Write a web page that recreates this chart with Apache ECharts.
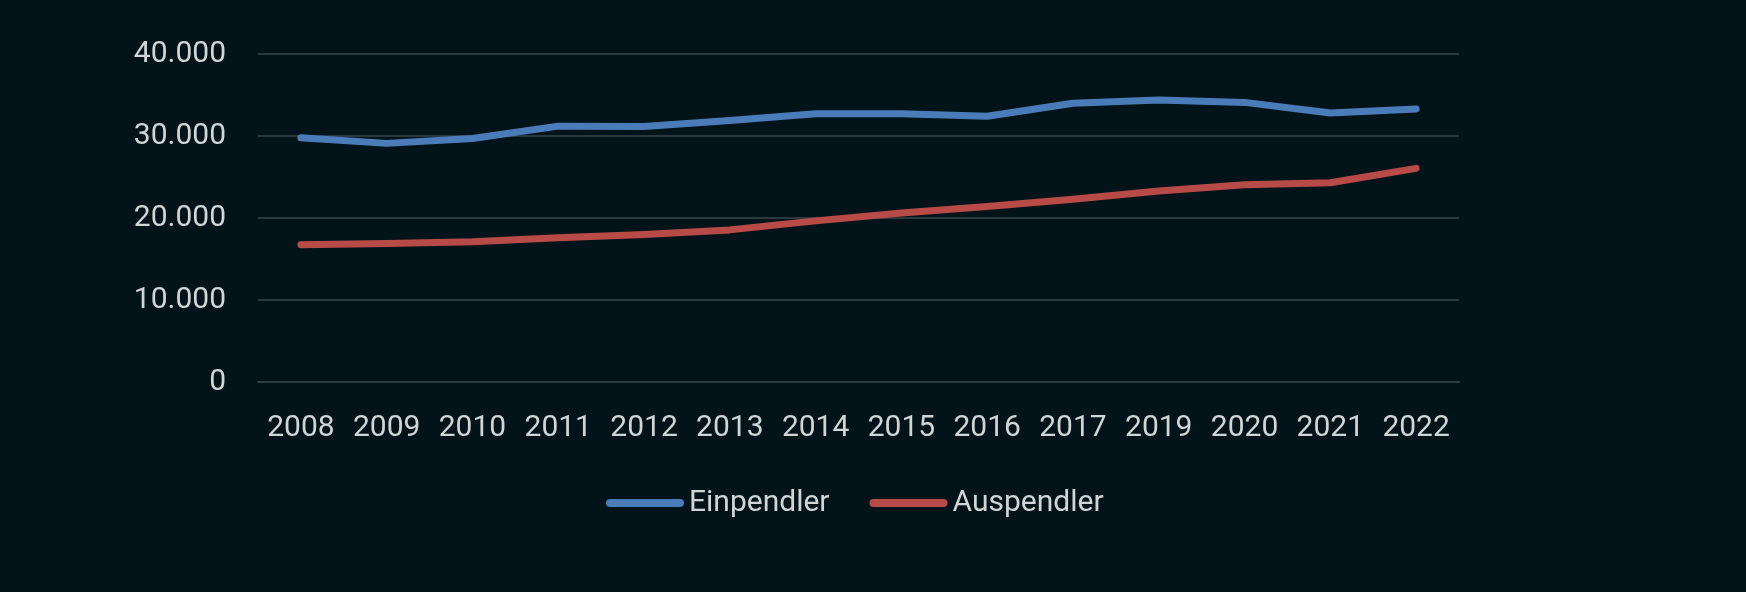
<html>
<head>
    <meta charset="utf-8">
    <title>Ein- und Auspendler</title>
    <script src="https://cdn.jsdelivr.net/npm/echarts@6/dist/echarts.min.js"></script>
    <style>
        html, body { margin: 0; padding: 0; background: #02141a; }
    </style>
</head>
<body>
<div id="main" style="width: 1746px;height:592px;"></div>
<script type="text/javascript">
    // Jahre (2018 fehlt im Original)
    var years = ['2008', '2009', '2010', '2011', '2012', '2013', '2014', '2015', '2016', '2017', '2019', '2020', '2021', '2022'];
    var einpendler = [29800, 29100, 29700, 31200, 31150, 31900, 32700, 32700, 32400, 34000, 34400, 34100, 32800, 33300];
    var auspendler = [16750, 16900, 17100, 17600, 18000, 18550, 19650, 20600, 21400, 22300, 23300, 24050, 24300, 26050];
    var yTicks = [0, 10000, 20000, 30000, 40000];

    var textColor = '#d2d4d5';
    var fmt = function (v) {
        return String(v).replace(/\B(?=(\d{3})+(?!\d))/g, '.');
    };
    // abgerundeter Balken als Legendensymbol
    var pill = 'path://M4,0 L74,0 A4,4 0 0 1 74,8 L4,8 A4,4 0 0 1 4,0 Z';

    var myChart = echarts.init(document.getElementById('main'));
    myChart.setOption({
        backgroundColor: '#02141a',
        textStyle: { fontFamily: 'Roboto' },
        grid: { left: 258, right: 287, top: 54, bottom: 210 },
        legend: {
            left: 601,
            top: 483,
            icon: pill,
            itemWidth: 78,
            itemHeight: 8,
            itemGap: 40,
            textStyle: { color: textColor, fontSize: 30, fontFamily: 'Roboto' },
            data: ['Einpendler', 'Auspendler']
        },
        xAxis: {
            type: 'category',
            data: years,
            boundaryGap: true,
            axisTick: { show: false },
            axisLine: { show: true, lineStyle: { color: '#2e3d41', width: 2 } },
            axisLabel: { color: textColor, fontSize: 30, margin: 31, interval: 0, hideOverlap: false }
        },
        yAxis: {
            type: 'value',
            min: yTicks[0],
            max: yTicks[yTicks.length - 1],
            interval: 10000,
            axisLine: { show: false },
            axisTick: { show: false },
            splitLine: { lineStyle: { color: '#2a393d', width: 2 } },
            axisLabel: { color: textColor, fontSize: 30, margin: 32, formatter: fmt }
        },
        series: [{
            name: 'Einpendler',
            type: 'line',
            data: einpendler,
            symbol: 'none',
            color: '#4a7cb9',
            lineStyle: { width: 7, cap: 'round', join: 'round' }
        }, {
            name: 'Auspendler',
            type: 'line',
            data: auspendler,
            symbol: 'none',
            color: '#b84a47',
            lineStyle: { width: 7, cap: 'round', join: 'round' }
        }]
    });
</script>
</body>
</html>
